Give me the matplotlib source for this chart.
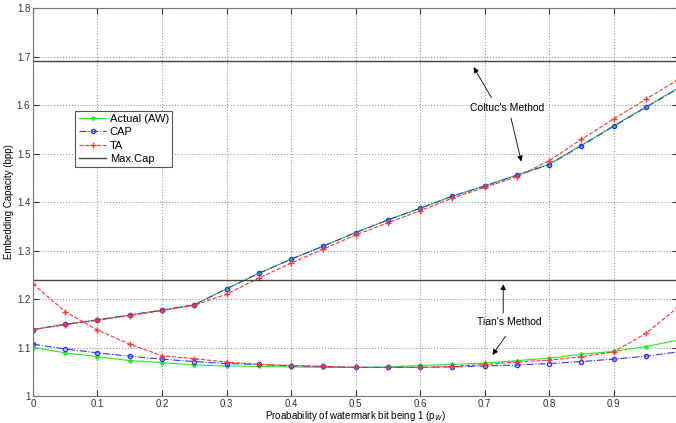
import matplotlib
matplotlib.use("Agg")
import matplotlib.pyplot as plt
import numpy as np

plt.rcParams['font.family'] = ['Liberation Sans', 'DejaVu Sans']

p = np.round(np.arange(0, 1.0001, 0.05), 2)

# Coltuc's method (upper curves)
aw_coltuc = [1.137, 1.148, 1.157, 1.167, 1.177, 1.188, 1.221, 1.253, 1.282, 1.309, 1.337,
             1.363, 1.387, 1.412, 1.433, 1.456, 1.478, 1.517, 1.557, 1.596, 1.635]
cap_coltuc = [1.137, 1.148, 1.157, 1.167, 1.177, 1.188, 1.221, 1.253, 1.282, 1.309, 1.337,
              1.363, 1.387, 1.412, 1.433, 1.455, 1.477, 1.516, 1.556, 1.595, 1.634]
ta_coltuc = [1.137, 1.147, 1.156, 1.166, 1.176, 1.187, 1.210, 1.243, 1.274, 1.303, 1.332,
             1.357, 1.382, 1.408, 1.430, 1.452, 1.485, 1.529, 1.571, 1.612, 1.652]

# Tian's method (lower curves)
aw_tian = [1.100, 1.089, 1.081, 1.073, 1.069, 1.064, 1.062, 1.061, 1.060, 1.059, 1.059,
           1.060, 1.063, 1.065, 1.068, 1.073, 1.078, 1.086, 1.092, 1.102, 1.115]
cap_tian = [1.107, 1.097, 1.089, 1.082, 1.076, 1.071, 1.067, 1.065, 1.062, 1.061, 1.059,
            1.059, 1.059, 1.060, 1.062, 1.064, 1.067, 1.071, 1.076, 1.082, 1.091]
ta_tian = [1.231, 1.174, 1.136, 1.107, 1.083, 1.077, 1.070, 1.065, 1.063, 1.061, 1.059,
           1.059, 1.059, 1.061, 1.065, 1.070, 1.074, 1.081, 1.091, 1.129, 1.183]

max_cap = [1.69, 1.24]

fig = plt.figure(figsize=(6.76, 4.23), dpi=100)
ax = fig.add_axes([0.0488, 0.0638, 0.9542, 0.9172])

green = '#22ee22'
blue = '#3333ff'
red = '#ff3333'

ax.plot(p, aw_coltuc, '-', color=green, marker='*', ms=3, lw=0.8, label='Actual (AW)')
ax.plot(p, cap_coltuc, '-.', color=blue, marker='o', ms=3, mfc='none', lw=0.8, label='CAP')
ax.plot(p, ta_coltuc, '--', color=red, marker='+', ms=4, lw=0.8, label='TA')
ax.plot(p, aw_tian, '-', color=green, marker='*', ms=3, lw=0.8)
ax.plot(p, cap_tian, '-.', color=blue, marker='o', ms=3, mfc='none', lw=0.8)
ax.plot(p, ta_tian, '--', color=red, marker='+', ms=4, lw=0.8)
ax.axhline(max_cap[0], color='#444444', lw=1.0, label='Max.Cap')
ax.axhline(max_cap[1], color='#444444', lw=1.0)

ax.set_xlim(0, 1)
ax.set_ylim(1, 1.8)
ax.set_xticks(np.arange(0, 1.01, 0.1))
ax.set_xticklabels(['0', '0.1', '0.2', '0.3', '0.4', '0.5', '0.6', '0.7', '0.8', '0.9', ''])
ax.set_yticks(np.arange(1, 1.81, 0.1))
ax.set_yticklabels(['1', '1.1', '1.2', '1.3', '1.4', '1.5', '1.6', '1.7', '1.8'])
ax.grid(True, linestyle=':', color='#999999', lw=0.8)
ax.tick_params(direction='in', top=True, right=True, labelsize=7, length=4, pad=2,
               colors='#333333')
for s in ax.spines.values():
    s.set_color('#777777')

ax.set_xlabel('Proabability of watermark bit being 1 (p$_W$)', fontsize=7, labelpad=0)
ax.set_ylabel('Embedding Capacity (bpp)', fontsize=7, labelpad=2)

leg = ax.legend(loc='upper left', bbox_to_anchor=(0.057, 0.75), fontsize=8, fancybox=False,
                framealpha=1, edgecolor='#555555', handlelength=2.5, borderpad=0.3,
                labelspacing=0.3, handletextpad=0.3)
leg.get_frame().set_linewidth(0.8)

arrow = dict(arrowstyle='-|>', color='black', lw=0.6, mutation_scale=8)
ax.text(0.735, 1.594, "Coltuc's Method", fontsize=7.5, ha='center', va='center')
ax.annotate('', xy=(0.681, 1.683), xytext=(0.713, 1.61), arrowprops=arrow)
ax.annotate('', xy=(0.758, 1.478), xytext=(0.740, 1.579), arrowprops=arrow)
ax.text(0.738, 1.153, "Tian's Method", fontsize=7.5, ha='center', va='center')
ax.annotate('', xy=(0.729, 1.236), xytext=(0.729, 1.165), arrowprops=arrow)
ax.annotate('', xy=(0.710, 1.080), xytext=(0.735, 1.128), arrowprops=arrow)

fig.savefig('out.png', dpi=100)
